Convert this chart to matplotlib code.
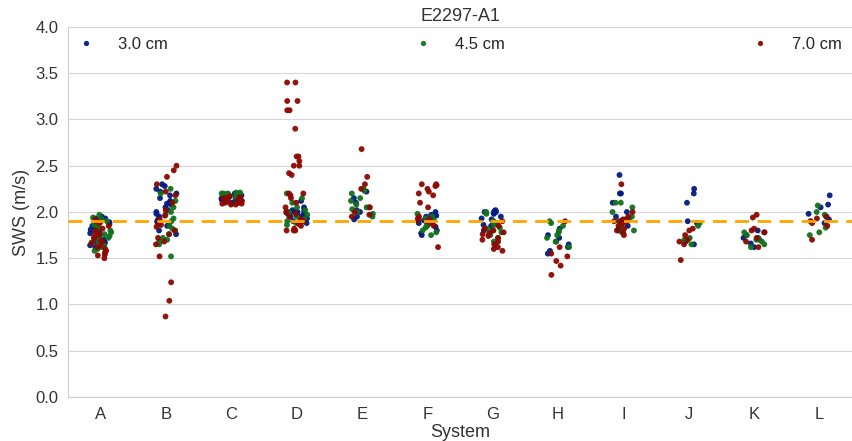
import numpy as np
import pandas as pd
import matplotlib
matplotlib.use("Agg")
import matplotlib.pyplot as plt
import seaborn as sns

systems = ["A", "B", "C", "D", "E", "F", "G", "H", "I", "J", "K", "L"]
depths = ["3.0 cm", "4.5 cm", "7.0 cm"]
reference_sws = 1.9

# SWS readings (m/s) per system, one list per depth
sws_3cm = {
    "A": [1.95, 1.93, 1.92, 1.90, 1.89, 1.87, 1.85, 1.84, 1.81, 1.79, 1.77, 1.74, 1.70, 1.68, 1.66, 1.65, 1.64, 1.63, 1.62, 1.71, 1.93, 1.67],
    "B": [2.30, 2.28, 2.25, 2.22, 2.20, 2.15, 2.12, 2.10, 2.08, 2.05, 2.02, 2.00, 1.98, 1.95, 1.92, 1.90, 1.88, 1.85, 1.80, 1.76, 2.18, 2.09],
    "C": [2.20, 2.18, 2.17, 2.15, 2.14, 2.13, 2.12, 2.10, 2.11, 2.16, 2.19, 2.14],
    "D": [2.05, 2.03, 2.02, 2.01, 2.00, 2.00, 1.99, 1.98, 1.97, 1.96, 1.95, 1.93, 1.92, 1.90, 1.88, 2.12, 2.01, 1.99],
    "E": [2.15, 2.10, 2.05, 2.02, 2.00, 1.97, 1.95, 1.92, 2.22],
    "F": [2.00, 1.97, 1.95, 1.93, 1.92, 1.90, 1.88, 1.86, 1.84, 1.80, 1.77, 1.75, 1.96, 1.91],
    "G": [2.02, 2.01, 2.00, 1.99, 1.98, 1.95, 1.92, 1.90, 1.88, 1.86, 1.85, 1.80, 2.00, 1.93],
    "H": [1.82, 1.75, 1.72, 1.68, 1.65, 1.62, 1.58, 1.55],
    "I": [2.40, 2.20, 2.20, 2.10, 2.00, 1.95, 1.92, 1.90, 1.85, 1.82, 1.80, 1.93],
    "J": [2.25, 2.20, 2.10, 1.90, 1.88, 1.68, 1.65],
    "K": [1.80, 1.78, 1.75, 1.72, 1.70, 1.66, 1.62],
    "L": [2.18, 2.08, 2.05, 1.98, 1.95, 1.92, 1.88],
}
sws_45cm = {
    "A": [1.97, 1.94, 1.92, 1.90, 1.88, 1.86, 1.83, 1.80, 1.78, 1.76, 1.74, 1.72, 1.69, 1.67, 1.64, 1.62, 1.60, 1.58, 1.84, 1.71],
    "B": [2.25, 2.20, 2.12, 2.05, 2.00, 1.97, 1.93, 1.90, 1.85, 1.80, 1.76, 1.72, 1.70, 1.68, 1.65, 1.52, 1.82],
    "C": [2.21, 2.20, 2.20, 2.19, 2.18, 2.18, 2.17, 2.16, 2.15, 2.21, 2.19, 2.17, 2.20, 2.18],
    "D": [2.20, 2.15, 2.10, 2.05, 2.00, 1.97, 1.95, 1.92, 1.90, 1.88, 1.86, 2.02],
    "E": [2.25, 2.23, 2.20, 2.15, 2.12, 2.08, 2.05, 2.03, 2.00, 1.98, 1.95],
    "F": [1.98, 1.95, 1.93, 1.90, 1.88, 1.85, 1.83, 1.80, 1.78, 1.75, 1.91],
    "G": [2.00, 1.98, 1.90, 1.86, 1.83, 1.80, 1.78, 1.75, 1.72, 1.68, 1.65, 1.82],
    "H": [1.90, 1.88, 1.85, 1.80, 1.78, 1.75, 1.72, 1.68, 1.62],
    "I": [2.10, 2.10, 2.05, 2.00, 1.95, 1.90, 1.85, 1.80, 1.78, 1.92],
    "J": [1.88, 1.85, 1.72, 1.70, 1.65],
    "K": [1.78, 1.75, 1.72, 1.70, 1.68, 1.65, 1.62],
    "L": [2.07, 2.00, 1.97, 1.90, 1.83, 1.78, 1.75],
}
sws_7cm = {
    "A": [1.92, 1.90, 1.88, 1.85, 1.82, 1.80, 1.78, 1.76, 1.73, 1.71, 1.69, 1.66, 1.64, 1.62, 1.60, 1.58, 1.56, 1.54, 1.53, 1.50, 1.75, 1.68],
    "B": [2.50, 2.45, 2.38, 2.30, 2.22, 2.18, 2.10, 2.02, 1.96, 1.92, 1.88, 1.84, 1.80, 1.76, 1.72, 1.68, 1.65, 1.52, 1.24, 1.04, 0.87, 1.86],
    "C": [2.17, 2.16, 2.15, 2.14, 2.13, 2.12, 2.12, 2.11, 2.10, 2.10, 2.09, 2.08, 2.08, 2.14, 2.11, 2.13, 2.09, 2.15],
    "D": [3.40, 3.40, 3.20, 3.20, 3.10, 3.10, 2.90, 2.60, 2.60, 2.55, 2.50, 2.50, 2.42, 2.40, 2.20, 2.20, 2.18, 2.15,
          2.10, 2.05, 2.00, 1.98, 1.95, 1.92, 1.90, 1.88, 1.85, 1.82, 1.80, 1.80, 1.80, 1.87],
    "E": [2.68, 2.38, 2.30, 2.25, 2.05, 2.00, 1.97, 1.95],
    "F": [2.30, 2.30, 2.29, 2.28, 2.25, 2.22, 2.20, 2.18, 2.10, 2.05, 1.95, 1.93, 1.92, 1.90, 1.88, 1.85, 1.62, 1.91],
    "G": [1.90, 1.85, 1.82, 1.80, 1.78, 1.76, 1.74, 1.72, 1.70, 1.68, 1.65, 1.62, 1.60, 1.58, 1.77],
    "H": [1.90, 1.62, 1.55, 1.52, 1.47, 1.42, 1.32],
    "I": [2.30, 2.00, 1.95, 1.92, 1.90, 1.90, 1.88, 1.85, 1.82, 1.80, 1.78, 1.75, 1.90],
    "J": [1.82, 1.80, 1.75, 1.70, 1.68, 1.65, 1.48],
    "K": [1.97, 1.94, 1.82, 1.80, 1.78, 1.72, 1.68, 1.62],
    "L": [1.95, 1.93, 1.90, 1.88, 1.85, 1.70],
}

rows = []
for depth, table in zip(depths, [sws_3cm, sws_45cm, sws_7cm]):
    for s in systems:
        for v in table[s]:
            rows.append({"System": s, "Depth": depth, "SWS (m/s)": v})
df = pd.DataFrame(rows)

sns.set_style("whitegrid")
plt.rcParams["font.family"] = ["Liberation Sans", "DejaVu Sans"]

colors = ["#001c7f", "#12711c", "#8c0800"]

fig = plt.figure(figsize=(8.52, 4.41), dpi=100)
ax = fig.add_axes([0.0798, 0.0998, 0.9202, 0.839])

np.random.seed(3)
sns.stripplot(data=df, x="System", y="SWS (m/s)", hue="Depth", order=systems,
              hue_order=depths, palette=colors, jitter=0.17, size=4.2,
              linewidth=0, alpha=0.95, ax=ax)

ax.axhline(reference_sws, color="orange", ls=(0, (5, 3)), lw=2, zorder=5)

ax.set_ylim(0, 4.0)
ax.set_yticks(np.arange(0, 4.01, 0.5))
ax.set_xlim(-0.5, 11.5)
ax.grid(axis="x", visible=False)
ax.grid(axis="y", color="#d6d6d6")
ax.tick_params(labelsize=12, colors="#333333")
ax.set_xlabel("System", fontsize=13, labelpad=2, color="#333333")
ax.set_ylabel("SWS (m/s)", fontsize=13, color="#333333")
ax.set_title("E2297-A1", fontsize=13, pad=4, color="#333333")
for side in ["top", "right"]:
    ax.spines[side].set_visible(False)

handles, labels = ax.get_legend_handles_labels()
ax.legend(handles, labels, ncol=3, mode="expand", loc="upper left",
          bbox_to_anchor=(0, 1, 1, 0), frameon=False, fontsize=12,
          handlelength=1.0, handletextpad=1.4, markerscale=0.9,
          borderaxespad=0.2)

fig.savefig("out.png", dpi=100)
